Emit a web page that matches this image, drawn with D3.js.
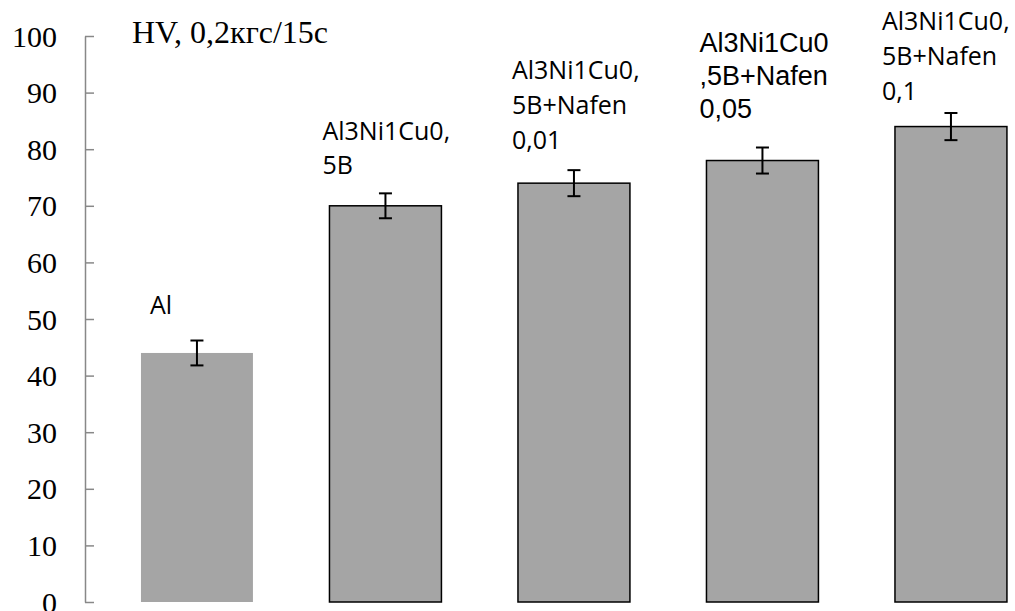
<!DOCTYPE html>
<html>
<head>
<meta charset="utf-8">
<script src="https://cdn.jsdelivr.net/npm/d3@7"></script>
<style>
  body { margin: 0; background: #fff; }
  svg { display: block; }
</style>
</head>
<body>
<div id="chart"></div>
<script>
// data
const categories = ['Al', 'Al3Ni1Cu0,5B', 'Al3Ni1Cu0,5B+Nafen 0,01', 'Al3Ni1Cu0,5B+Nafen 0,05', 'Al3Ni1Cu0,5B+Nafen 0,1'];
const hardness = [44, 70, 74, 78, 84];
const errors = [2.2, 2.2, 2.3, 2.3, 2.4];
const labelLines = [
    ['Al'],
    ['Al3Ni1Cu0,', '5B'],
    ['Al3Ni1Cu0,', '5B+Nafen', '0,01'],
    ['Al3Ni1Cu0', ',5B+Nafen', '0,05'],
    ['Al3Ni1Cu0,', '5B+Nafen', '0,1']
];
const yTicks = [0, 10, 20, 30, 40, 50, 60, 70, 80, 90, 100];
const unitLabel = 'HV, 0,2кгс/15с';

// label placement (layout only)
const labelLayout = [
    { dx: 9, top: 314, font: '"Open Sans", sans-serif', size: 25, lh: 34 },
    { dx: -7, top: 140, font: '"Open Sans", sans-serif', size: 25, lh: 34 },
    { dx: -6, top: 79, font: '"Open Sans", sans-serif', size: 25, lh: 35 },
    { dx: -7, top: 52, font: '"Liberation Sans", Arial, sans-serif', size: 27, lh: 33 },
    { dx: -13, top: 30, font: '"Open Sans", sans-serif', size: 25, lh: 35 }
];

const W = 1015, H = 611;
const svg = d3.select('#chart').append('svg')
    .attr('width', W)
    .attr('height', H);

const x = d3.scaleBand()
    .domain(categories)
    .range([102.7, 1045.2])
    .paddingInner(0.406)
    .paddingOuter(0.203);

const y = d3.scaleLinear()
    .domain([0, 100])
    .range([602, 36]);

// y axis: gray line, ticks pointing into the plot
const axisX = 85;
const yAxis = svg.append('g')
    .attr('transform', `translate(${axisX},0)`)
    .call(d3.axisRight(y).tickValues(yTicks).tickSize(9).tickSizeOuter(0).tickFormat(''));
yAxis.select('.domain').attr('stroke', '#888').attr('stroke-width', 1.5);
yAxis.selectAll('.tick line').attr('stroke', '#888').attr('stroke-width', 1.5);

svg.append('g').selectAll('text')
    .data(yTicks)
    .enter()
    .append('text')
    .attr('x', 57)
    .attr('y', d => y(d))
    .attr('dy', '0.35em')
    .attr('text-anchor', 'end')
    .style('font-family', '"Liberation Serif", "Times New Roman", serif')
    .style('font-size', '30px')
    .attr('fill', '#000')
    .text(d => d);

// bars
svg.append('g').selectAll('rect')
    .data(categories)
    .enter()
    .append('rect')
    .attr('x', d => x(d))
    .attr('y', (d, i) => y(hardness[i]))
    .attr('width', x.bandwidth())
    .attr('height', (d, i) => y(0) - y(hardness[i]))
    .attr('fill', '#a5a5a5')
    .attr('stroke', (d, i) => i === 0 ? 'none' : '#000')
    .attr('stroke-width', 1.5);

// error bars
const eb = svg.append('g').attr('stroke', '#000').attr('stroke-width', 2);
categories.forEach((c, i) => {
    const cx = x(c) + x.bandwidth() / 2;
    const hi = y(hardness[i] + errors[i]);
    const lo = y(hardness[i] - errors[i]);
    eb.append('line').attr('x1', cx).attr('x2', cx).attr('y1', hi).attr('y2', lo);
    eb.append('line').attr('x1', cx - 6.5).attr('x2', cx + 6.5).attr('y1', hi).attr('y2', hi);
    eb.append('line').attr('x1', cx - 6.5).attr('x2', cx + 6.5).attr('y1', lo).attr('y2', lo);
});

// data labels above bars
categories.forEach((c, i) => {
    const lay = labelLayout[i];
    const t = svg.append('text')
        .attr('x', x(c) + lay.dx)
        .attr('y', lay.top)
        .style('font-family', lay.font)
        .style('font-size', lay.size + 'px')
        .attr('fill', '#000');
    labelLines[i].forEach((line, j) => {
        t.append('tspan')
            .attr('x', x(c) + lay.dx)
            .attr('y', lay.top + j * lay.lh)
            .text(line);
    });
});

// unit label
svg.append('text')
    .attr('x', 132)
    .attr('y', 43)
    .style('font-family', '"Liberation Serif", "Times New Roman", serif')
    .style('font-size', '32px')
    .attr('fill', '#000')
    .text(unitLabel);
</script>
</body>
</html>
